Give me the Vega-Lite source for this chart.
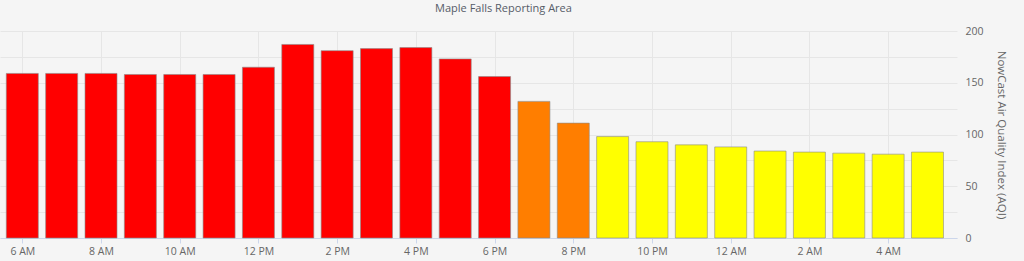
{
  "$schema": "https://vega.github.io/schema/vega-lite/v6.json",
  "width": 957,
  "height": 207,
  "autosize": "none",
  "padding": {"left": 0, "top": 31, "right": 67, "bottom": 23},
  "background": "#f5f5f5",
  "title": {
    "text": "Maple Falls Reporting Area",
    "font": "Open Sans",
    "fontSize": 11,
    "fontWeight": "normal",
    "color": "#555c68",
    "anchor": "middle",
    "dx": 25,
    "offset": 12
  },
  "config": {
    "view": {"stroke": null},
    "axis": {"labelFont": "Open Sans", "titleFont": "Open Sans"}
  },
  "data": {
    "values": [
      {"time": "2024-01-01T06:00:00", "aqi": 159, "level": "Unhealthy"},
      {"time": "2024-01-01T07:00:00", "aqi": 159, "level": "Unhealthy"},
      {"time": "2024-01-01T08:00:00", "aqi": 159, "level": "Unhealthy"},
      {"time": "2024-01-01T09:00:00", "aqi": 158, "level": "Unhealthy"},
      {"time": "2024-01-01T10:00:00", "aqi": 158, "level": "Unhealthy"},
      {"time": "2024-01-01T11:00:00", "aqi": 158, "level": "Unhealthy"},
      {"time": "2024-01-01T12:00:00", "aqi": 165, "level": "Unhealthy"},
      {"time": "2024-01-01T13:00:00", "aqi": 187, "level": "Unhealthy"},
      {"time": "2024-01-01T14:00:00", "aqi": 181, "level": "Unhealthy"},
      {"time": "2024-01-01T15:00:00", "aqi": 183, "level": "Unhealthy"},
      {"time": "2024-01-01T16:00:00", "aqi": 184, "level": "Unhealthy"},
      {"time": "2024-01-01T17:00:00", "aqi": 173, "level": "Unhealthy"},
      {"time": "2024-01-01T18:00:00", "aqi": 156, "level": "Unhealthy"},
      {"time": "2024-01-01T19:00:00", "aqi": 132, "level": "Unhealthy for Sensitive Groups"},
      {"time": "2024-01-01T20:00:00", "aqi": 111, "level": "Unhealthy for Sensitive Groups"},
      {"time": "2024-01-01T21:00:00", "aqi": 98, "level": "Moderate"},
      {"time": "2024-01-01T22:00:00", "aqi": 93, "level": "Moderate"},
      {"time": "2024-01-01T23:00:00", "aqi": 90, "level": "Moderate"},
      {"time": "2024-01-02T00:00:00", "aqi": 88, "level": "Moderate"},
      {"time": "2024-01-02T01:00:00", "aqi": 84, "level": "Moderate"},
      {"time": "2024-01-02T02:00:00", "aqi": 83, "level": "Moderate"},
      {"time": "2024-01-02T03:00:00", "aqi": 82, "level": "Moderate"},
      {"time": "2024-01-02T04:00:00", "aqi": 81, "level": "Moderate"},
      {"time": "2024-01-02T05:00:00", "aqi": 83, "level": "Moderate"}
    ]
  },
  "mark": {
    "type": "bar",
    "width": 32,
    "stroke": "#8a8a8a",
    "strokeOpacity": 0.6,
    "strokeWidth": 1
  },
  "encoding": {
    "x": {
      "field": "time",
      "type": "temporal",
      "scale": {
        "padding": 0,
        "domain": [
          {"year": 2024, "month": 1, "date": 1, "hours": 5, "minutes": 26},
          {"year": 2024, "month": 1, "date": 2, "hours": 5, "minutes": 45}
        ]
      },
      "axis": {
        "title": null,
        "format": "%-I %p",
        "values": [
          {"year": 2024, "month": 1, "date": 1, "hours": 6},
          {"year": 2024, "month": 1, "date": 1, "hours": 8},
          {"year": 2024, "month": 1, "date": 1, "hours": 10},
          {"year": 2024, "month": 1, "date": 1, "hours": 12},
          {"year": 2024, "month": 1, "date": 1, "hours": 14},
          {"year": 2024, "month": 1, "date": 1, "hours": 16},
          {"year": 2024, "month": 1, "date": 1, "hours": 18},
          {"year": 2024, "month": 1, "date": 1, "hours": 20},
          {"year": 2024, "month": 1, "date": 1, "hours": 22},
          {"year": 2024, "month": 1, "date": 2, "hours": 0},
          {"year": 2024, "month": 1, "date": 2, "hours": 2},
          {"year": 2024, "month": 1, "date": 2, "hours": 4}
        ],
        "grid": true,
        "gridColor": "#e6e6e6",
        "domainColor": "#ccd6eb",
        "tickColor": "#ccd6eb",
        "tickSize": 5,
        "labelColor": "#666666",
        "labelFontSize": 10.5,
        "labelPadding": 3,
        "labelFlush": false
      }
    },
    "y": {
      "field": "aqi",
      "type": "quantitative",
      "scale": {"domain": [0, 200], "nice": false},
      "axis": {
        "orient": "right",
        "title": "NowCast Air Quality Index (AQI)",
        "titleColor": "#666666",
        "titleFontSize": 11.5,
        "titleFontWeight": "normal",
        "titlePadding": 12,
        "values": [0, 25, 50, 75, 100, 125, 150, 175, 200],
        "labelExpr": "datum.value % 50 === 0 ? datum.label : ''",
        "grid": true,
        "gridColor": "#e6e6e6",
        "domain": false,
        "ticks": false,
        "labelColor": "#666666",
        "labelFontSize": 10.5,
        "labelPadding": 8,
        "labelAlign": "left"
      }
    },
    "color": {
      "field": "level",
      "type": "nominal",
      "scale": {
        "domain": ["Moderate", "Unhealthy for Sensitive Groups", "Unhealthy"],
        "range": ["#ffff00", "#ff7e00", "#ff0000"]
      },
      "legend": null
    }
  }
}
